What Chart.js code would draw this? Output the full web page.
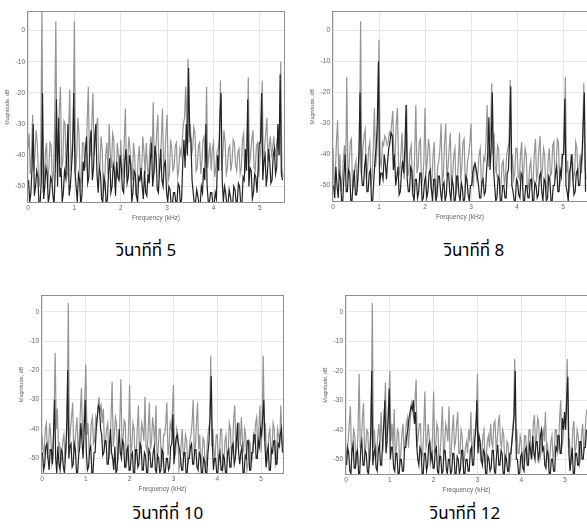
<!DOCTYPE html>
<html>
<head>
<meta charset="utf-8">
<script src="https://cdn.jsdelivr.net/npm/chart.js@4.4.1/dist/chart.umd.min.js"></script>
<style>
  body { margin: 0; background: #fff; width: 587px; height: 531px; overflow: hidden; position: relative; }
  canvas { position: absolute; }
  .cap { position: absolute; width: 200px; text-align: center; font-family: Tahoma, "Noto Sans Thai", Loma, Garuda, sans-serif; font-size: 17px; color: #000; line-height: 20px; }
</style>
</head>
<body>
<canvas id="c5"></canvas>
<canvas id="c8"></canvas>
<canvas id="c10"></canvas>
<canvas id="c12"></canvas>
<div class="cap" id="t5"></div>
<div class="cap" id="t8"></div>
<div class="cap" id="t10"></div>
<div class="cap" id="t12"></div>
<script>
// spectra sampled every 0.025 kHz; grey trace starts at 0, dark trace half a step later
const STEP = 0.025;
const xTicks = [0, 1, 2, 3, 4, 5];
const yTicks = [0, -10, -20, -30, -40, -50];
const captions = ['วินาทีที่ 5', 'วินาทีที่ 8', 'วินาทีที่ 10', 'วินาทีที่ 12'];

// one row = 0.5 kHz
const grey5 = [
  -38,-33,-46,-40,-27,-45,-40,-32,-36,-47,-50,-40,8,-52,-48,-39,-36,-50,-44,-36,
  -37,-49,-46,-30,3,-42,-34,-26,-18,-44,-42,-29,-30,-48,-46,-33,-19,-45,-38,-32,
  3,-46,-40,-28,-33,-50,-48,-36,-36,-43,-44,-30,-18,-41,-38,-30,-20,-40,-36,-31,
  -28,-42,-45,-34,-38,-52,-50,-40,-36,-46,-30,-40,-44,-33,-35,-49,-47,-36,-40,-48,
  -35,-44,-46,-36,-25,-47,-42,-34,-38,-44,-48,-36,-40,-53,-50,-41,-37,-48,-45,-34,
  -39,-46,-36,-44,-47,-38,-34,-41,-23,-46,-40,-33,-27,-47,-44,-35,-25,-44,-42,-33,
  -27,-48,-46,-35,-38,-45,-44,-37,-36,-47,-45,-38,-40,-36,-30,-28,-18,-34,-9,-36,
  -30,-40,-38,-31,-33,-45,-44,-37,-36,-46,-42,-35,-34,-42,-18,-44,-40,-36,-45,-38,
  -36,-47,-44,-39,-38,-35,-16,-45,-40,-32,-36,-46,-44,-38,-37,-45,-42,-35,-36,-43,
  -45,-39,-38,-46,-44,-35,-33,-46,-42,-38,-15,-43,-40,-35,-32,-44,-45,-37,-36,-47,
  -42,-36,-16,-44,-38,-33,-28,-42,-37,-34,-40,-38,-34,-40,-38,-35,-36,-40,-10,-44,
  -47];
const dark5 = [
  -48,-55,-52,-44,-30,-53,-50,-45,-47,-56,-55,-48,-20,-54,-50,-44,-46,-55,-53,-47,
  -48,-53,-56,-45,-22,-50,-28,-47,-44,-55,-52,-45,-47,-40,-30,-53,-50,-44,-38,-20,
  -45,-50,-55,-46,-48,-56,-53,-42,-45,-38,-34,-49,-47,-36,-32,-48,-44,-35,-30,-46,
  -52,-44,-46,-54,-55,-47,-49,-56,-54,-45,-41,-52,-50,-43,-45,-53,-42,-47,-48,-40,
  -44,-51,-52,-42,-38,-49,-47,-40,-43,-55,-52,-45,-46,-53,-55,-47,-48,-44,-50,-54,
  -45,-52,-53,-46,-49,-42,-36,-50,-46,-37,-40,-51,-52,-44,-38,-48,-50,-43,-42,-52,
  -55,-50,-51,-56,-56,-52,-52,-55,-55,-49,-50,-56,-54,-42,-35,-44,-30,-40,-12,-33,
  -35,-48,-52,-56,-55,-51,-53,-56,-56,-50,-52,-44,-48,-30,-50,-55,-55,-52,-52,-56,
  -56,-52,-54,-40,-45,-28,-20,-48,-55,-50,-52,-56,-56,-51,-53,-56,-56,-50,-51,-55,
  -55,-49,-50,-56,-56,-47,-48,-38,-45,-22,-50,-44,-45,-54,-52,-46,-47,-52,-44,-36,
  -36,-20,-48,-42,-40,-50,-46,-38,-42,-49,-48,-40,-38,-46,-44,-30,-40,-14,-46,-48];

const grey8 = [
  -38,-50,-46,-36,-29,-47,-40,-52,-48,-42,-37,-46,-15,-48,-44,-36,-35,-51,-50,-44,
  -42,-52,-47,-40,3,-46,-38,-34,-32,-48,-45,-38,-36,-50,-47,-38,-25,-44,-40,-30,
  -3,-42,-44,-36,-37,-34,-35,-37,-36,-33,-34,-30,-26,-42,-40,-30,-25,-44,-46,-40,
  -33,-44,-48,-38,-24,-47,-45,-39,-37,-52,-50,-40,-24,-46,-44,-36,-35,-50,-48,-42,
  -25,-46,-42,-35,-38,-50,-48,-40,-36,-54,-52,-44,-42,-38,-30,-50,-46,-36,-30,-47,
  -44,-38,-33,-50,-47,-40,-38,-53,-50,-42,-33,-48,-44,-36,-35,-50,-48,-42,-40,-36,
  -30,-48,-50,-43,-44,-48,-46,-40,-38,-50,-48,-41,-42,-36,-24,-44,-38,-32,-17,-40,
  -33,-44,-46,-37,-38,-52,-50,-43,-42,-50,-47,-40,-38,-36,-16,-46,-40,-48,-46,-38,
  -38,-47,-48,-40,-36,-50,-44,-38,-40,-52,-50,-44,-42,-50,-48,-40,-35,-48,-46,-38,
  -34,-48,-45,-38,-40,-52,-50,-42,-38,-47,-46,-37,-36,-48,-44,-35,-36,-50,-48,-40,
  -40,-36,-15,-46,-42,-52,-50,-40,-40,-48,-46,-36,-38,-47,-44,-40,-46,-38,-17,-44,
  -48];
const dark8 = [
  -50,-54,-44,-50,-54,-46,-48,-55,-55,-47,-40,-52,-52,-45,-46,-55,-55,-49,-45,-53,
  -53,-48,-40,-20,-45,-50,-50,-44,-40,-52,-52,-46,-45,-55,-55,-48,-42,-38,-30,-10,
  -50,-46,-46,-48,-40,-43,-48,-42,-38,-36,-33,-34,-45,-40,-50,-47,-44,-53,-52,-46,
  -42,-46,-38,-24,-48,-52,-52,-44,-45,-53,-55,-48,-48,-54,-52,-46,-46,-55,-54,-49,
  -47,-54,-52,-46,-45,-51,-55,-48,-48,-55,-53,-47,-47,-52,-55,-50,-49,-55,-53,-46,
  -46,-52,-55,-48,-50,-56,-54,-47,-47,-53,-55,-49,-51,-56,-54,-47,-48,-53,-55,-50,
  -50,-46,-44,-43,-45,-47,-50,-54,-54,-49,-48,-53,-52,-45,-40,-28,-45,-38,-20,-44,
  -50,-55,-54,-47,-48,-55,-55,-50,-50,-54,-54,-46,-45,-35,-18,-50,-52,-55,-55,-48,
  -49,-53,-54,-46,-47,-55,-55,-50,-50,-54,-54,-48,-48,-55,-55,-49,-50,-54,-53,-47,
  -46,-52,-55,-48,-49,-55,-54,-47,-48,-55,-55,-50,-50,-46,-44,-52,-52,-45,-47,-40,
  -40,-22,-50,-52,-55,-46,-44,-40,-48,-53,-52,-46,-45,-50,-50,-44,-40,-30,-20,-52];

const grey10 = [
  -42,-47,-48,-40,-38,-50,-46,-38,-42,-52,-50,-36,-14,-40,-33,-46,-45,-52,-50,-44,
  -42,-50,-48,-38,3,-46,-40,-36,-31,-48,-46,-40,-36,-48,-44,-34,-26,-42,-40,-30,
  -18,-42,-38,-48,-46,-38,-36,-45,-44,-36,-38,-33,-29,-34,-32,-38,-33,-46,-44,-40,
  -38,-50,-48,-36,-24,-46,-42,-36,-38,-52,-48,-38,-23,-46,-44,-37,-38,-52,-50,-40,
  -25,-48,-46,-38,-40,-52,-48,-40,-32,-50,-46,-38,-40,-44,-29,-46,-48,-40,-31,-47,
  -44,-36,-40,-46,-32,-50,-48,-40,-40,-53,-50,-42,-42,-38,-31,-49,-46,-38,-40,-34,
  -25,-50,-48,-40,-42,-54,-52,-45,-40,-50,-48,-42,-44,-52,-50,-44,-42,-38,-30,-48,
  -46,-38,-31,-47,-42,-52,-50,-43,-44,-54,-52,-44,-40,-38,-15,-46,-40,-48,-50,-42,
  -42,-52,-48,-40,-40,-54,-52,-44,-42,-50,-48,-38,-40,-50,-46,-36,-32,-48,-46,-38,
  -38,-46,-36,-44,-48,-40,-42,-54,-52,-44,-45,-52,-50,-42,-44,-38,-36,-48,-40,-32,
  -48,-36,-15,-44,-38,-52,-50,-42,-40,-48,-46,-38,-40,-52,-50,-40,-42,-46,-32,-44,
  -46];
const dark10 = [
  -48,-54,-52,-46,-45,-50,-54,-47,-47,-52,-42,-30,-50,-55,-46,-52,-54,-47,-48,-53,
  -55,-48,-40,-20,-50,-46,-45,-53,-52,-45,-47,-55,-55,-49,-46,-38,-44,-50,-40,-30,
  -48,-54,-53,-47,-46,-55,-55,-48,-48,-40,-36,-32,-33,-40,-42,-49,-48,-44,-44,-52,
  -52,-46,-40,-48,-50,-54,-46,-55,-54,-47,-40,-48,-50,-44,-45,-53,-53,-47,-46,-54,
  -54,-49,-48,-55,-55,-47,-47,-53,-52,-45,-46,-54,-54,-48,-49,-55,-55,-47,-48,-53,
  -53,-48,-46,-54,-55,-49,-50,-55,-54,-47,-48,-55,-55,-50,-50,-54,-53,-46,-45,-35,
  -52,-46,-43,-42,-45,-47,-50,-54,-54,-48,-48,-55,-55,-50,-50,-46,-45,-52,-52,-47,
  -47,-53,-54,-48,-49,-55,-55,-50,-51,-55,-55,-48,-44,-35,-22,-45,-54,-50,-50,-55,
  -55,-50,-48,-54,-54,-49,-50,-55,-55,-48,-47,-53,-53,-46,-45,-52,-50,-44,-38,-48,
  -52,-48,-46,-55,-55,-49,-50,-44,-44,-54,-54,-48,-48,-42,-42,-50,-50,-44,-46,-40,
  -42,-36,-30,-45,-53,-48,-46,-54,-54,-47,-48,-44,-44,-52,-52,-45,-46,-42,-40,-48];

const grey12 = [
  -50,-46,-44,-38,-32,-48,-46,-40,-42,-52,-50,-40,-21,-46,-44,-36,-31,-48,-46,-40,
  -41,-52,-50,-40,3,-46,-40,-50,-48,-42,-38,-46,-34,-44,-46,-34,-24,-42,-40,-30,
  -20,-44,-38,-46,-33,-50,-46,-40,-41,-52,-48,-42,-38,-47,-44,-38,-36,-46,-40,-35,
  -31,-34,-36,-30,-23,-46,-42,-38,-38,-50,-48,-40,-27,-46,-44,-38,-42,-52,-50,-42,
  -27,-48,-45,-38,-40,-52,-48,-40,-32,-48,-46,-38,-40,-44,-32,-50,-48,-40,-35,-46,
  -44,-38,-34,-48,-48,-40,-42,-52,-50,-46,-44,-48,-40,-44,-34,-48,-46,-40,-40,-36,
  -21,-46,-45,-50,-48,-42,-40,-52,-50,-44,-42,-46,-38,-44,-46,-38,-37,-46,-44,-38,
  -35,-44,-46,-40,-42,-52,-50,-44,-45,-54,-52,-46,-40,-36,-16,-44,-40,-48,-48,-42,
  -44,-52,-50,-42,-42,-50,-48,-40,-40,-50,-46,-38,-35,-46,-42,-36,-38,-50,-48,-42,
  -40,-44,-34,-46,-45,-52,-50,-44,-42,-50,-48,-40,-40,-48,-46,-36,-30,-46,-44,-38,
  -38,-34,-16,-46,-43,-52,-50,-40,-37,-48,-46,-40,-42,-52,-50,-42,-38,-46,-44,-36,
  -33];
const dark12 = [
  -52,-46,-48,-54,-55,-47,-45,-53,-53,-48,-47,-55,-55,-46,-44,-52,-52,-47,-48,-54,
  -55,-50,-42,-20,-52,-48,-46,-53,-54,-47,-45,-52,-52,-44,-38,-30,-48,-44,-36,-26,
  -50,-46,-46,-53,-54,-48,-48,-55,-55,-50,-50,-54,-54,-46,-46,-42,-40,-36,-34,-32,
  -33,-30,-38,-34,-45,-50,-52,-46,-47,-55,-55,-48,-48,-54,-52,-45,-44,-50,-48,-53,
  -53,-47,-46,-54,-55,-49,-49,-55,-54,-47,-47,-53,-55,-50,-50,-55,-54,-48,-48,-55,
  -55,-49,-50,-55,-53,-47,-47,-55,-55,-50,-50,-54,-54,-47,-46,-52,-52,-44,-40,-30,
  -48,-42,-44,-50,-52,-47,-48,-55,-55,-49,-50,-54,-53,-47,-47,-54,-55,-48,-45,-52,
  -52,-47,-48,-55,-55,-49,-50,-54,-54,-48,-48,-44,-40,-35,-20,-50,-50,-55,-55,-49,
  -48,-53,-54,-47,-46,-52,-52,-45,-47,-50,-42,-48,-50,-44,-44,-50,-48,-42,-40,-47,
  -46,-52,-53,-47,-48,-55,-55,-50,-50,-54,-54,-46,-47,-42,-42,-48,-48,-36,-40,-34,
  -40,-30,-22,-48,-54,-50,-46,-55,-55,-48,-48,-52,-52,-44,-44,-50,-50,-46,-46,-40];

// plot rectangles on the page and axis ranges for each panel
const panels = [
  { id: 'c5',  cap: 't5',  grey: grey5,  dark: dark5,  l: 28,  t: 9,   w: 256, h: 193, xMax: 5.52, yMax: 6,   capX: 146, capY: 241 },
  { id: 'c8',  cap: 't8',  grey: grey8,  dark: dark8,  l: 333, t: 9,   w: 254, h: 192, xMax: 5.52, yMax: 6,   capX: 474, capY: 241 },
  { id: 'c10', cap: 't10', grey: grey10, dark: dark10, l: 42,  t: 293, w: 241, h: 180, xMax: 5.5,  yMax: 5.4, capX: 168, capY: 504 },
  { id: 'c12', cap: 't12', grey: grey12, dark: dark12, l: 346, t: 293, w: 241, h: 181, xMax: 5.5,  yMax: 5.4, capX: 465, capY: 504 }
];

const YW = 24, XH = 20, PT = 4, PR = 4;

function toPoints(vals, start) {
  return vals.map((v, i) => ({ x: +(start + i * STEP).toFixed(4), y: v }));
}

const frame = {
  id: 'frame',
  afterDraw(chart) {
    const { ctx, chartArea: a } = chart;
    ctx.save();
    ctx.strokeStyle = '#8f8f8f';
    ctx.lineWidth = 1;
    ctx.strokeRect(Math.round(a.left) - 0.5, Math.round(a.top) - 0.5,
      Math.round(a.right - a.left) + 1, Math.round(a.bottom - a.top) + 1);
    ctx.restore();
  }
};

const FAMILY = 'Arial, "Liberation Sans", sans-serif';
const tickFont = { family: FAMILY, size: 6.5 };

panels.forEach((p, k) => {
  const cv = document.getElementById(p.id);
  cv.style.left = (p.l - YW) + 'px';
  cv.style.top = (p.t - PT) + 'px';
  cv.width = YW + p.w + PR;
  cv.height = PT + p.h + XH;

  const cap = document.getElementById(p.cap);
  cap.textContent = captions[k];
  cap.style.left = (p.capX - 100) + 'px';
  cap.style.top = p.capY + 'px';

  new Chart(cv, {
    type: 'line',
    data: {
      datasets: [
        { data: toPoints(p.dark, STEP / 2), borderColor: '#222', borderWidth: 1.2 },
        { data: toPoints(p.grey, 0), borderColor: '#959595', borderWidth: 1.2 }
      ]
    },
    options: {
      responsive: false,
      animation: false,
      devicePixelRatio: 1,
      layout: { padding: { left: 0, top: PT, right: PR, bottom: 0 } },
      elements: { point: { radius: 0 }, line: { tension: 0 } },
      plugins: { legend: { display: false }, tooltip: { enabled: false } },
      scales: {
        x: {
          type: 'linear', min: 0, max: p.xMax,
          afterBuildTicks: s => { s.ticks = xTicks.map(v => ({ value: v })); },
          afterFit: s => { s.height = XH; },
          grid: { color: '#e6e6e6', drawTicks: false },
          border: { display: false },
          ticks: { font: tickFont, color: '#666', padding: 2, maxRotation: 0 },
          title: { display: true, text: 'Frequency (kHz)', font: { family: FAMILY, size: 6.5 }, color: '#666', padding: 0 }
        },
        y: {
          min: -55, max: p.yMax,
          afterBuildTicks: s => { s.ticks = yTicks.map(v => ({ value: v })); },
          afterFit: s => { s.width = YW; },
          grid: { color: '#e6e6e6', drawTicks: false },
          border: { display: false },
          ticks: { font: tickFont, color: '#666', padding: 3 },
          title: { display: true, text: 'Magnitude, dB', font: { family: FAMILY, size: 5.5 }, color: '#666', padding: 0 }
        }
      }
    },
    plugins: [frame]
  });
});
</script>
</body>
</html>
